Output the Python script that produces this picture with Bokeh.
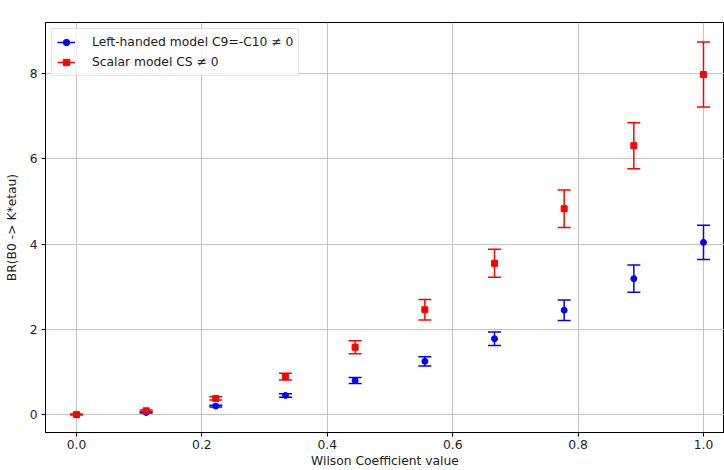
from bokeh.plotting import figure
from bokeh.models import ColumnDataSource, FixedTicker, Legend, LegendItem, Label, Range1d, CustomJSTickFormatter
from bokeh.embed import file_html
from bokeh.resources import INLINE

# Data (BR in units of 1e-8)
wilson = [0.0, 0.1111, 0.2222, 0.3333, 0.4444, 0.5556, 0.6667, 0.7778, 0.8889, 1.0]
br_left = [0.0, 0.05, 0.20, 0.45, 0.80, 1.25, 1.78, 2.45, 3.19, 4.04]
err_left = [0.0, 0.01, 0.02, 0.04, 0.07, 0.11, 0.16, 0.24, 0.32, 0.40]
br_scalar = [0.0, 0.09, 0.38, 0.89, 1.58, 2.46, 3.55, 4.83, 6.31, 7.98]
err_scalar = [0.0, 0.02, 0.04, 0.08, 0.15, 0.24, 0.33, 0.44, 0.54, 0.76]
x_ticks = [0.0, 0.2, 0.4, 0.6, 0.8, 1.0]
y_ticks = [0, 2, 4, 6, 8]
label_left = "Left-handed model C9=-C10 \u2260 0"
label_scalar = "Scalar model CS \u2260 0"

FONT = "DejaVu Sans"
FS = "12.3px"

p = figure(width=724, height=470, output_backend="svg", toolbar_location=None,
           x_range=Range1d(-0.0494, 1.0335), y_range=Range1d(-0.42, 9.2),
           min_border_left=45, min_border_right=0, min_border_top=22, min_border_bottom=38)
p.background_fill_color = "white"
p.border_fill_color = "white"
p.outline_line_color = "black"
p.outline_line_width = 1

def series(xs, ys, es, color, marker, size):
    lo = [y - e for y, e in zip(ys, es)]
    hi = [y + e for y, e in zip(ys, es)]
    src = ColumnDataSource(dict(x=xs, y=ys, lo=lo, hi=hi))
    stem = p.segment(x0="x", y0="lo", x1="x", y1="hi", source=src, line_color=color, line_width=1.5)
    p.scatter(x="x", y="lo", source=src, marker="dash", size=13, line_color=color, line_width=1.5)
    p.scatter(x="x", y="hi", source=src, marker="dash", size=13, line_color=color, line_width=1.5)
    mk = p.scatter(x="x", y="y", source=src, marker=marker, size=size, fill_color=color, line_color=color)
    return stem, mk

s1, m1 = series(wilson, br_left, err_left, "blue", "circle", 6)
s2, m2 = series(wilson, br_scalar, err_scalar, "red", "square", 6)

for ax in (p.xaxis[0], p.yaxis[0]):
    ax.major_label_text_font = FONT
    ax.major_label_text_font_size = FS
    ax.major_label_text_color = "#222222"
    ax.axis_label_text_font = FONT
    ax.axis_label_text_font_size = FS
    ax.axis_label_text_font_style = "normal"
    ax.axis_label_text_color = "#222222"
    ax.minor_tick_line_color = None
    ax.major_tick_out = 4
    ax.major_tick_in = 0
    ax.axis_line_color = "black"

p.xaxis.ticker = FixedTicker(ticks=x_ticks)
p.xaxis.formatter = CustomJSTickFormatter(code="return tick.toFixed(1);")
p.yaxis.ticker = FixedTicker(ticks=y_ticks)
p.yaxis.formatter = CustomJSTickFormatter(code="return tick.toFixed(0);")
p.xaxis.axis_label = "Wilson Coefficient value"
p.yaxis.axis_label = "BR(B0 -> K*etau)"
p.xaxis.axis_label_standoff = 2
p.yaxis.axis_label_standoff = 8
p.xaxis.major_label_standoff = 3
p.yaxis.major_label_standoff = 4

p.grid.grid_line_color = "#c4c4c4"
p.grid.grid_line_width = 1

p.add_layout(Label(x=-0.0494, y=9.2, y_offset=2, text="1e\u22128", text_font=FONT,
                   text_font_size=FS, text_color="#222222", text_baseline="bottom"))

legend = Legend(items=[LegendItem(label=label_left, renderers=[s1, m1]),
                       LegendItem(label=label_scalar, renderers=[s2, m2])],
                location="top_left", margin=6, padding=5, spacing=4,
                glyph_width=18, glyph_height=16, label_standoff=17,
                label_text_font=FONT, label_text_font_size=FS, label_text_color="#222222",
                border_line_color="#cccccc", border_line_width=1, background_fill_alpha=0.8)
p.add_layout(legend)

open("out.html", "w").write(file_html(p, INLINE))
